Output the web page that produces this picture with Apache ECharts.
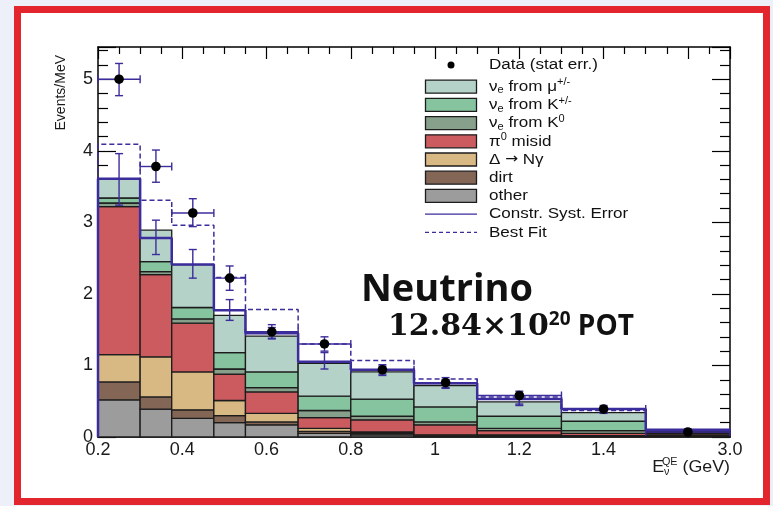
<!DOCTYPE html>
<html>
<head>
<meta charset="utf-8">
<script src="https://cdn.jsdelivr.net/npm/echarts@6/dist/echarts.min.js"></script>
<style>
  html, body { margin: 0; padding: 0; background: #edf0f8; }
  #frame { position: absolute; left: 14px; top: 6px; width: 742px; height: 485px; border: 7px solid #e3262d; background: #fff; }
  #chart { position: absolute; left: 0; top: 0; width: 773px; height: 506px; }
</style>
</head>
<body>
<div id="frame"></div>
<div id="chart"></div>
<script>
// bin edges in GeV, last bin (1.5 - 3.0) is drawn squeezed like in the original plot
const binEdgesGeV = [0.2, 0.3, 0.375, 0.475, 0.55, 0.675, 0.8, 0.95, 1.1, 1.3, 1.5, 3.0];

// stacked MC components (events/MeV), bottom to top
const other = [0.52, 0.39, 0.26, 0.20, 0.17, 0.05, 0.03, 0.015, 0.01, 0.01, 0.01];
const dirt  = [0.25, 0.17, 0.12, 0.10, 0.04, 0.03, 0.02, 0.01, 0.01, 0.005, 0.01];
const deltaNg = [0.38, 0.56, 0.53, 0.21, 0.12, 0.04, 0.02, 0.005, 0.01, 0.005, 0.01];
const pi0   = [2.07, 1.15, 0.68, 0.37, 0.30, 0.15, 0.17, 0.14, 0.06, 0.03, 0.02];
const nueK0 = [0.05, 0.04, 0.06, 0.07, 0.06, 0.10, 0.05, 0.04, 0.03, 0.04, 0.01];
const nueK  = [0.07, 0.14, 0.16, 0.23, 0.22, 0.20, 0.24, 0.21, 0.17, 0.13, 0.02];
const nueMu = [0.27, 0.44, 0.60, 0.52, 0.50, 0.46, 0.38, 0.30, 0.20, 0.12, 0.01];

// constrained prediction and its systematic error
const constrTotal = [3.61, 2.78, 2.41, 1.77, 1.45, 1.05, 0.94, 0.75, 0.53, 0.39, 0.10];
const constrLo    = [3.24, 2.55, 2.22, 1.63, 1.37, 0.95, 0.88, 0.69, 0.44, 0.34, 0.09];
const constrHi    = [3.96, 3.03, 2.62, 1.92, 1.53, 1.18, 0.99, 0.80, 0.60, 0.42, 0.11];

const bestFit = [4.09, 3.31, 2.96, 2.23, 1.78, 1.30, 1.07, 0.81, 0.56, 0.37, 0.10];

// data with stat errors
const dataVal = [5.00, 3.78, 3.13, 2.22, 1.47, 1.30, 0.94, 0.76, 0.58, 0.39, 0.07];
const dataLo  = [4.77, 3.56, 2.94, 2.05, 1.38, 1.20, 0.86, 0.68, 0.46, 0.33, 0.05];
const dataHi  = [5.22, 4.01, 3.33, 2.39, 1.57, 1.40, 1.01, 0.83, 0.64, 0.44, 0.09];

const xTickValues = [0.2, 0.4, 0.6, 0.8, 1.0, 1.2, 1.4, 3.0];
const xTickLabels = ['0.2', '0.4', '0.6', '0.8', '1', '1.2', '1.4', '3.0'];
const yTickLabels = ['0', '1', '2', '3', '4', '5'];

const BLUE = '#3b2d9b';
const EDGE = '#1c1c1c';
const FONT = '"Liberation Sans", Arial, sans-serif';

// axis coordinate: linear up to 1.5 GeV, then 1.5-3.0 squeezed into 0.2
function axisPos(e) {
  return e <= 1.5 ? e : 1.5 + (e - 1.5) * 0.2 / 1.5;
}
const edges = binEdgesGeV.map(axisPos);
const nBins = edges.length - 1;

const components = [
  { name: 'other', values: other, color: '#9c9c9c' },
  { name: 'dirt', values: dirt, color: '#836656' },
  { name: 'delta', values: deltaNg, color: '#d8b984' },
  { name: 'pi0', values: pi0, color: '#cc5b60' },
  { name: 'k0', values: nueK0, color: '#87a08b' },
  { name: 'kpm', values: nueK, color: '#86c49f' },
  { name: 'mu', values: nueMu, color: '#b4d2c8' }
];

let base = new Array(nBins).fill(0);
const stackSeries = components.map(function (c) {
  const rows = [];
  for (let i = 0; i < nBins; i++) {
    rows.push([edges[i], edges[i + 1], base[i], base[i] + c.values[i]]);
    base[i] += c.values[i];
  }
  return {
    type: 'custom',
    name: c.name,
    data: rows,
    encode: { x: [0, 1], y: [2, 3] },
    itemStyle: { color: c.color },
    z: 2,
    renderItem: function (params, api) {
      const p0 = api.coord([api.value(0), api.value(2)]);
      const p1 = api.coord([api.value(1), api.value(3)]);
      return {
        type: 'rect',
        shape: { x: p0[0], y: p1[1], width: p1[0] - p0[0], height: p0[1] - p1[1] },
        style: { fill: c.color, stroke: EDGE, lineWidth: 1.3 }
      };
    }
  };
});

function stepData(vals) {
  const d = [[edges[0], 0]];
  for (let i = 0; i < nBins; i++) d.push([edges[i], vals[i]]);
  d.push([edges[nBins], vals[nBins - 1]]);
  return d;
}

const centers = [];
for (let i = 0; i < nBins; i++) centers.push((edges[i] + edges[i + 1]) / 2);

const systRows = centers.map((x, i) => [x, constrLo[i], constrHi[i]]);
const dataRows = centers.map((x, i) => [x, dataVal[i], dataLo[i], dataHi[i], edges[i], edges[i + 1]]);

const chart = echarts.init(document.getElementById('chart'));

// legend drawn by hand (ROOT style)
const legendRows = [
  { kind: 'dot', text: '{t|Data (stat err.)}' },
  { kind: 'box', color: '#b4d2c8', text: '{t|ν}{sub|e}{t| from μ}{sup|+/-}' },
  { kind: 'box', color: '#86c49f', text: '{t|ν}{sub|e}{t| from K}{sup|+/-}' },
  { kind: 'box', color: '#87a08b', text: '{t|ν}{sub|e}{t| from K}{sup|0}' },
  { kind: 'box', color: '#cc5b60', text: '{t|π}{sup|0}{t| misid}' },
  { kind: 'box', color: '#d8b984', text: '{t|Δ }{ar|→}{t| Nγ}' },
  { kind: 'box', color: '#836656', text: '{t|dirt}' },
  { kind: 'box', color: '#9c9c9c', text: '{t|other}' },
  { kind: 'line', text: '{t|Constr. Syst. Error}' },
  { kind: 'dash', text: '{t|Best Fit}' }
];
const legendRich = {
  t: { fontSize: 15.5, fontFamily: FONT, lineHeight: 18, fill: '#111' },
  ar: { fontSize: 14, fontFamily: '"DejaVu Sans", sans-serif', lineHeight: 18, fill: '#111' },
  sub: { fontSize: 10, fontFamily: FONT, lineHeight: 10, verticalAlign: 'bottom', fill: '#111' },
  sup: { fontSize: 10, fontFamily: FONT, lineHeight: 10, verticalAlign: 'top', fill: '#111' }
};
const legendGraphics = [];
legendRows.forEach(function (r, k) {
  const cy = k === 0 ? 65 : 86.7 + (k - 1) * 18.2;
  if (r.kind === 'box') {
    legendGraphics.push({ type: 'rect', shape: { x: 425.5, y: cy - 6.5, width: 51, height: 13 },
      style: { fill: r.color, stroke: EDGE, lineWidth: 1.3 }, z: 10 });
  } else if (r.kind === 'dot') {
    legendGraphics.push({ type: 'circle', shape: { cx: 451, cy: cy, r: 3.5 }, style: { fill: '#000' }, z: 10 });
  } else {
    legendGraphics.push({ type: 'line', shape: { x1: 425, y1: cy, x2: 477, y2: cy },
      style: { stroke: BLUE, lineWidth: 1.3, lineDash: r.kind === 'dash' ? [4, 3] : null }, z: 10 });
  }
  legendGraphics.push({ type: 'text', x: 489, y: cy, z: 10, scaleX: 1.1,
    style: { text: r.text, rich: legendRich, verticalAlign: 'middle', align: 'left' } });
});

const tickLine = { color: '#000', width: 1.2 };

const option = {
  animation: false,
  grid: { left: 98, right: 43, top: 47, bottom: 69, containLabel: false },
  xAxis: [
    {
      type: 'value', min: edges[0], max: edges[nBins], position: 'bottom',
      axisLine: { onZero: false, lineStyle: { color: '#000', width: 1.5 } },
      axisTick: { show: false },
      splitLine: { show: false },
      axisLabel: {
        customValues: xTickValues.map(axisPos),
        formatter: function (v) {
          const k = xTickValues.map(axisPos).findIndex(t => Math.abs(t - v) < 1e-6);
          return k >= 0 ? xTickLabels[k] : '';
        },
        color: '#1a1a1a', fontSize: 18, fontFamily: FONT, margin: 4
      }
    },
    {
      type: 'value', min: 0.2, max: edges[nBins], interval: 0.2, position: 'top',
      axisLine: { onZero: false, lineStyle: { color: '#000', width: 1.5 } },
      axisTick: { inside: true, length: 12, lineStyle: tickLine },
      minorTick: { show: true, splitNumber: 4, length: 7, lineStyle: tickLine },
      axisLabel: { show: false },
      splitLine: { show: false }
    }
  ],
  yAxis: [
    {
      type: 'value', min: 0, max: 5.45, interval: 1, position: 'left',
      axisLine: { show: true, onZero: false, lineStyle: { color: '#000', width: 1.5 } },
      axisTick: { inside: true, length: 18, lineStyle: tickLine },
      minorTick: { show: true, splitNumber: 5, length: 10, lineStyle: tickLine },
      splitLine: { show: false },
      axisLabel: {
        formatter: function (v) {
          const k = Math.round(v);
          return Math.abs(v - k) < 1e-6 && yTickLabels[k] !== undefined ? yTickLabels[k] : '';
        },
        color: '#1a1a1a', fontSize: 18, fontFamily: FONT, margin: 5
      }
    },
    {
      type: 'value', min: 0, max: 5.45, interval: 1, position: 'right',
      axisLine: { show: true, onZero: false, lineStyle: { color: '#000', width: 1.5 } },
      axisTick: { inside: true, length: 18, lineStyle: tickLine },
      minorTick: { show: true, splitNumber: 5, length: 10, lineStyle: tickLine },
      splitLine: { show: false },
      axisLabel: { show: false }
    }
  ],
  graphic: [
    { type: 'text', x: 61, y: 55, rotation: Math.PI / 2,
      style: { text: 'Events/MeV', font: '14px ' + FONT, fill: '#1a1a1a', align: 'right', verticalAlign: 'middle' } },
    { type: 'text', x: 730, y: 467, scaleX: 1.08,
      style: {
        text: '{t|E}{sub|ν}{sup|QE}{t| (GeV)}', align: 'right', verticalAlign: 'middle',
        rich: {
          t: { fontSize: 16.5, fontFamily: FONT, lineHeight: 20, fill: '#1a1a1a' },
          sub: { fontSize: 10, fontFamily: FONT, lineHeight: 10, verticalAlign: 'bottom', fill: '#1a1a1a' },
          sup: { fontSize: 10, fontFamily: FONT, lineHeight: 10, verticalAlign: 'top', fill: '#1a1a1a', padding: [0, 0, 0, -7] }
        }
      } },
    { type: 'text', x: 447, y: 290, z: 10,
      style: { text: 'Neutrino', font: 'bold 38px "Open Sans", sans-serif', fill: '#111', align: 'center', verticalAlign: 'middle' } },
    { type: 'text', x: 388, y: 327, z: 10,
      style: {
        text: '{a|12.84×10}{b|20}{c| POT}', align: 'left', verticalAlign: 'middle',
        rich: {
          a: { fontSize: 30, fontWeight: 'bold', fontFamily: '"DejaVu Serif", serif', lineHeight: 34, fill: '#111' },
          b: { fontSize: 19, fontWeight: 'bold', fontFamily: '"Open Sans", sans-serif', lineHeight: 20, verticalAlign: 'top', fill: '#111' },
          c: { fontSize: 28, fontWeight: 'bold', fontFamily: '"Open Sans", sans-serif', lineHeight: 34, fill: '#111' }
        }
      } }
  ].concat(legendGraphics),
  series: stackSeries.concat([
    {
      type: 'line', name: 'Constr. Syst. Error', data: stepData(constrTotal), step: 'end',
      showSymbol: false, symbol: 'none', z: 4,
      lineStyle: { color: BLUE, width: 2.5 }
    },
    {
      type: 'line', name: 'Best Fit', data: stepData(bestFit), step: 'end',
      showSymbol: false, symbol: 'none', z: 4,
      lineStyle: { color: BLUE, width: 1.5, type: [5, 3] }
    },
    {
      type: 'custom', name: 'syst', data: systRows, encode: { x: 0, y: [1, 2] }, z: 5,
      renderItem: function (params, api) {
        const lo = api.coord([api.value(0), api.value(1)]);
        const hi = api.coord([api.value(0), api.value(2)]);
        const st = { stroke: BLUE, lineWidth: 1.4 };
        return { type: 'group', children: [
          { type: 'line', shape: { x1: lo[0], y1: lo[1], x2: hi[0], y2: hi[1] }, style: st },
          { type: 'line', shape: { x1: lo[0] - 4, y1: lo[1], x2: lo[0] + 4, y2: lo[1] }, style: st },
          { type: 'line', shape: { x1: hi[0] - 4, y1: hi[1], x2: hi[0] + 4, y2: hi[1] }, style: st }
        ] };
      }
    },
    {
      type: 'custom', name: 'data', data: dataRows, encode: { x: [0, 4, 5], y: [1, 2, 3] }, z: 6,
      renderItem: function (params, api) {
        const c = api.coord([api.value(0), api.value(1)]);
        const lo = api.coord([api.value(0), api.value(2)]);
        const hi = api.coord([api.value(0), api.value(3)]);
        const l = api.coord([api.value(4), api.value(1)]);
        const r = api.coord([api.value(5), api.value(1)]);
        const st = { stroke: BLUE, lineWidth: 1.4 };
        return { type: 'group', children: [
          { type: 'line', shape: { x1: lo[0], y1: lo[1], x2: hi[0], y2: hi[1] }, style: st },
          { type: 'line', shape: { x1: lo[0] - 4, y1: lo[1], x2: lo[0] + 4, y2: lo[1] }, style: st },
          { type: 'line', shape: { x1: hi[0] - 4, y1: hi[1], x2: hi[0] + 4, y2: hi[1] }, style: st },
          { type: 'line', shape: { x1: l[0], y1: l[1], x2: r[0], y2: r[1] }, style: st },
          { type: 'line', shape: { x1: l[0], y1: l[1] - 4, x2: l[0], y2: l[1] + 4 }, style: st },
          { type: 'line', shape: { x1: r[0], y1: r[1] - 4, x2: r[0], y2: r[1] + 4 }, style: st },
          { type: 'circle', shape: { cx: c[0], cy: c[1], r: 4.8 }, style: { fill: '#000' } }
        ] };
      }
    }
  ])
};

chart.setOption(option);
</script>
</body>
</html>
